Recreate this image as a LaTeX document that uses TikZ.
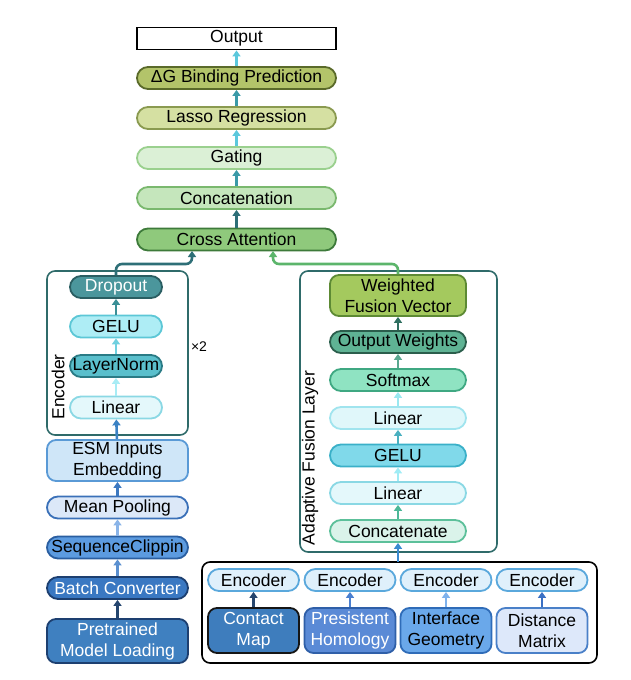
\documentclass[tikz,border=0pt]{standalone}
\usepackage{fontspec}
\setmainfont{Liberation Sans}
\usetikzlibrary{arrows.meta}
\definecolor{c1}{HTML}{5BC8DC}
\definecolor{c2}{HTML}{3A9AA8}
\definecolor{c3}{HTML}{2D6F78}
\definecolor{fdg}{HTML}{B3C46A}\definecolor{ddg}{HTML}{5A6A2A}
\definecolor{fla}{HTML}{D5E0A2}\definecolor{dla}{HTML}{8A9A50}
\definecolor{fga}{HTML}{DBF0D6}\definecolor{dga}{HTML}{9AD08E}
\definecolor{fco}{HTML}{C5E6BC}\definecolor{dco}{HTML}{7AB86E}
\definecolor{fcr}{HTML}{8FC97C}\definecolor{dcr}{HTML}{3D7A3A}
\definecolor{frm}{HTML}{2F6B6A}
\definecolor{fdr}{HTML}{4B969C}\definecolor{ddr}{HTML}{2A5E62}
\definecolor{fge}{HTML}{AEEDF5}\definecolor{dge}{HTML}{5CC7D6}
\definecolor{fln}{HTML}{5ABFCC}\definecolor{dln}{HTML}{2A7B85}
\definecolor{fli}{HTML}{E4F8FB}\definecolor{dli}{HTML}{8AD8E4}
\definecolor{fes}{HTML}{CFE6F8}\definecolor{des}{HTML}{5A9AD6}
\definecolor{fme}{HTML}{DCE8F8}\definecolor{dme}{HTML}{3A70B8}
\definecolor{fse}{HTML}{5C9BE0}\definecolor{dse}{HTML}{2A5EA0}
\definecolor{fba}{HTML}{3A78C2}\definecolor{dba}{HTML}{1D3F70}
\definecolor{fpr}{HTML}{3F80C0}
\definecolor{fwf}{HTML}{A4C95E}\definecolor{dwf}{HTML}{5D8A34}
\definecolor{fow}{HTML}{5FB394}\definecolor{dow}{HTML}{2B5E4C}
\definecolor{fso}{HTML}{8FE3C2}\definecolor{dso}{HTML}{3FA882}
\definecolor{fl1}{HTML}{E0F7FA}\definecolor{dl1}{HTML}{A0E4EE}
\definecolor{frg}{HTML}{80D9EA}\definecolor{drg}{HTML}{3AB0C8}
\definecolor{frc}{HTML}{DAF3EA}\definecolor{drc}{HTML}{5CC09A}
\definecolor{fen}{HTML}{DFF0FB}\definecolor{den}{HTML}{5AA8DC}
\definecolor{fcm}{HTML}{3E7DBD}\definecolor{dcm}{HTML}{151515}
\definecolor{fph}{HTML}{5A8AD6}\definecolor{dph}{HTML}{2F5FA8}
\definecolor{fig}{HTML}{6AA8EA}\definecolor{dig}{HTML}{2F6CB8}
\definecolor{fdm}{HTML}{DDE8FA}\definecolor{ddm}{HTML}{4A80C8}
\definecolor{a1}{HTML}{3A8F96}\definecolor{a2}{HTML}{6FD0DF}
\definecolor{a3}{HTML}{A8ECF5}\definecolor{a4}{HTML}{3B82C4}
\definecolor{a5}{HTML}{3C78C0}\definecolor{a6}{HTML}{8AB4E8}
\definecolor{a7}{HTML}{5B90D0}\definecolor{a8}{HTML}{24456E}
\definecolor{b1}{HTML}{2F6F60}\definecolor{b2}{HTML}{5AA890}
\definecolor{b3}{HTML}{9AE8F0}\definecolor{b4}{HTML}{4AB0C0}
\definecolor{b5}{HTML}{A0ECF5}\definecolor{b6}{HTML}{4CB898}
\definecolor{b7}{HTML}{3A8AD0}
\definecolor{e1c}{HTML}{26466E}\definecolor{e2c}{HTML}{4A7FD0}
\definecolor{e3c}{HTML}{7FB2EC}\definecolor{e4c}{HTML}{3A70C4}
\definecolor{lc}{HTML}{2E6F77}\definecolor{rc}{HTML}{5CB56B}
\tikzset{
  x=1pt,y=-1pt,
  box/.style={draw,line width=1.8pt,minimum height=22pt,inner sep=0pt,rounded corners=11pt,font=\fontsize{17.5}{21}\selectfont,align=center},
  top/.style={box,minimum width=199pt},
  lft/.style={box,minimum width=92pt},
  rgt/.style={box,minimum width=136pt},
  enc/.style={box,minimum width=91pt},
  bot/.style={box,minimum width=91pt,minimum height=45pt,rounded corners=9pt},
  frame/.style={draw,line width=1.6pt,rounded corners=8pt},
  arr/.style={line width=2.6pt,-{Triangle[length=6pt,width=8pt]}},
}
\begin{document}
\begin{tikzpicture}
\useasboundingbox (0,0) rectangle (630,680);
% top column
\node[top,rounded corners=0pt,fill=white,draw=black] (out) at (236.5,38.5) {Output};
\node[top,fill=fdg,draw=ddg] (dg) at (236.5,78) {ΔG Binding Prediction};
\node[top,fill=fla,draw=dla] (lasso) at (236.5,118) {Lasso Regression};
\node[top,fill=fga,draw=dga] (gate) at (236.5,158) {Gating};
\node[top,fill=fco,draw=dco] (concat) at (236.5,198) {Concatenation};
\node[top,fill=fcr,draw=dcr] (cross) at (236.5,239.5) {Cross Attention};
\draw[arr,c1] (dg) -- (out);
\draw[arr,c2] (lasso) -- (dg);
\draw[arr,c1] (gate) -- (lasso);
\draw[arr,c2] (concat) -- (gate);
\draw[arr,c3] (cross) -- (concat);
% left encoder
\draw[frame,draw=frm] (47,271) rectangle (188,435);
\node[rotate=90,font=\fontsize{17.5}{20}\selectfont] (enclab) at (58,387) {Encoder};
\node[font=\fontsize{14}{16}\selectfont] (x2) at (199,347) {×2};
\node[lft,fill=fdr,draw=ddr,text=white] (drop) at (116,287) {Dropout};
\node[lft,fill=fge,draw=dge] (gelu) at (116,326.5) {GELU};
\node[lft,fill=fln,draw=dln] (ln) at (116,366) {LayerNorm};
\node[lft,fill=fli,draw=dli] (lin) at (116,407.5) {Linear};
\node[box,minimum width=141pt,minimum height=41pt,rounded corners=9pt,fill=fes,draw=des] (esm) at (117.5,460.5) {ESM Inputs\\Embedding};
\node[box,minimum width=141pt,fill=fme,draw=dme] (mean) at (117.5,507.5) {Mean Pooling};
\node[box,minimum width=141pt,fill=fse,draw=dse] (seq) at (117.5,547.5) {SequenceClippin};
\node[box,minimum width=141pt,fill=fba,draw=dba,text=white] (batch) at (117.5,588) {Batch Converter};
\node[box,minimum width=141pt,minimum height=44pt,rounded corners=9pt,fill=fpr,draw=dba,text=white] (pre) at (117.5,641) {Pretrained\\Model Loading};
\draw[arr,a1] (gelu) -- (drop);
\draw[arr,a2] (ln) -- (gelu);
\draw[arr,a3] (lin) -- (ln);
\draw[arr,a4] (esm) -- (lin);
\draw[arr,a5] (mean) -- (esm);
\draw[arr,a6] (seq) -- (mean);
\draw[arr,a7] (batch) -- (seq);
\draw[arr,a8] (pre) -- (batch);
% right fusion
\draw[frame,draw=frm] (300,271) rectangle (497,552);
\node[rotate=90,font=\fontsize{17.5}{20}\selectfont] (flab) at (310,458) {Adaptive Fusion Layer};
\node[box,minimum width=136pt,minimum height=41pt,rounded corners=9pt,fill=fwf,draw=dwf] (wfv) at (398,295.5) {Weighted\\Fusion Vector};
\node[rgt,fill=fow,draw=dow] (ow) at (398,342) {Output Weights};
\node[rgt,fill=fso,draw=dso] (soft) at (398,380) {Softmax};
\node[rgt,fill=fl1,draw=dl1] (rlin1) at (398,418) {Linear};
\node[rgt,fill=frg,draw=drg] (rgelu) at (398,455.5) {GELU};
\node[rgt,fill=fli,draw=dli] (rlin2) at (398,493) {Linear};
\node[rgt,fill=frc,draw=drc] (rcat) at (398,531) {Concatenate};
\draw[arr,b1] (ow) -- (wfv);
\draw[arr,b2] (soft) -- (ow);
\draw[arr,b3] (rlin1) -- (soft);
\draw[arr,b4] (rgelu) -- (rlin1);
\draw[arr,b5] (rlin2) -- (rgelu);
\draw[arr,b6] (rcat) -- (rlin2);
% bottom features
\draw[frame,draw=black] (202,562) rectangle (597,663);
\coordinate (bt) at (398,562);
\draw[arr,b7] (bt) -- (rcat);
\node[enc,fill=fen,draw=den] (e1) at (253.5,580) {Encoder};
\node[enc,fill=fen,draw=den] (e2) at (350,580) {Encoder};
\node[enc,fill=fen,draw=den] (e3) at (446,580) {Encoder};
\node[enc,fill=fen,draw=den] (e4) at (542,580) {Encoder};
\node[bot,fill=fcm,draw=dcm,text=white] (cm) at (253.5,630.5) {Contact\\Map};
\node[bot,fill=fph,draw=dph,text=white] (ph) at (350,630.5) {Presistent\\Homology};
\node[bot,fill=fig,draw=dig] (ig) at (446,630.5) {Interface\\Geometry};
\node[bot,fill=fdm,draw=ddm] (dm) at (542,630.5) {Distance\\Matrix};
\draw[arr,e1c] (cm) -- (e1);
\draw[arr,e2c] (ph) -- (e2);
\draw[arr,e3c] (ig) -- (e3);
\draw[arr,e4c] (dm) -- (e4);
% into cross attention
\draw[line width=2.6pt,lc,rounded corners=6pt,-{Triangle[length=6pt,width=8pt]}] (drop.north) -- (116,264) -- (192,264) -- (192,251);
\draw[line width=2.6pt,rc,rounded corners=6pt,-{Triangle[length=6pt,width=8pt]}] (wfv.north) -- (398,264) -- (273,264) -- (273,251);
\end{tikzpicture}
\end{document}
